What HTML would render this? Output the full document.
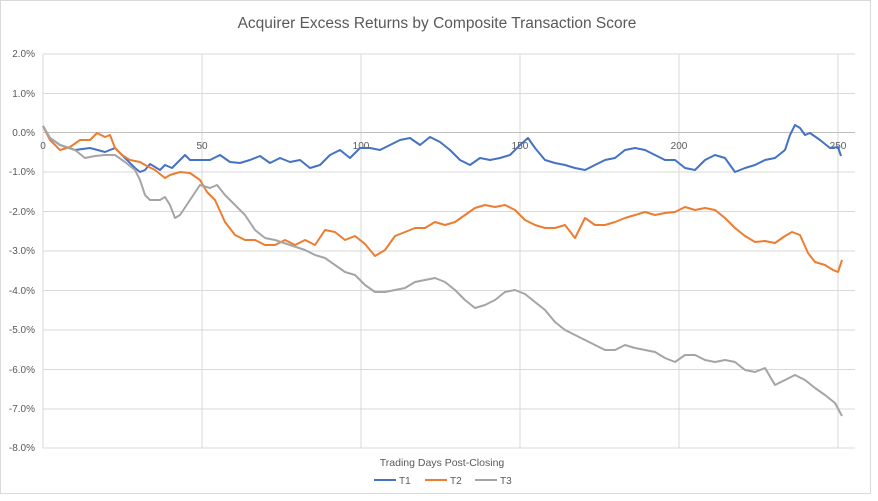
<!DOCTYPE html>
<html><head><meta charset="utf-8"><style>
html,body{margin:0;padding:0;background:#fff;}
svg{display:block;font-family:"Liberation Sans",sans-serif;}
</style></head><body>
<svg width="878" height="501" viewBox="0 0 878 501">
<rect x="0.5" y="0.5" width="870" height="493" fill="#fff" stroke="#d9d9d9"/>
<text x="437" y="28" text-anchor="middle" font-size="15.5" fill="#595959">Acquirer Excess Returns by Composite Transaction Score</text>
<g stroke="#d9d9d9" stroke-width="1">
<line x1="43" y1="54" x2="855" y2="54"/><line x1="43" y1="93.5" x2="855" y2="93.5"/>
<line x1="43" y1="172" x2="855" y2="172"/><line x1="43" y1="211.5" x2="855" y2="211.5"/>
<line x1="43" y1="251" x2="855" y2="251"/><line x1="43" y1="290.5" x2="855" y2="290.5"/>
<line x1="43" y1="330" x2="855" y2="330"/><line x1="43" y1="369.5" x2="855" y2="369.5"/>
<line x1="43" y1="409" x2="855" y2="409"/><line x1="43" y1="448" x2="855" y2="448"/>
<line x1="43" y1="54" x2="43" y2="448"/><line x1="202" y1="54" x2="202" y2="448"/>
<line x1="361" y1="54" x2="361" y2="448"/><line x1="520" y1="54" x2="520" y2="448"/>
<line x1="679" y1="54" x2="679" y2="448"/><line x1="838" y1="54" x2="838" y2="448"/>
</g>
<line x1="43" y1="132.5" x2="855" y2="132.5" stroke="#bfbfbf"/>
<g font-size="10" fill="#595959" text-anchor="end">
<text x="35" y="57">2.0%</text><text x="35" y="97">1.0%</text><text x="35" y="136">0.0%</text>
<text x="35" y="175">-1.0%</text><text x="35" y="215">-2.0%</text><text x="35" y="254">-3.0%</text>
<text x="35" y="294">-4.0%</text><text x="35" y="333">-5.0%</text><text x="35" y="373">-6.0%</text>
<text x="35" y="412">-7.0%</text><text x="35" y="451">-8.0%</text>
</g>
<g font-size="10" fill="#595959" text-anchor="middle">
<text x="43" y="149">0</text><text x="202" y="149">50</text><text x="361" y="149">100</text>
<text x="520" y="149">150</text><text x="679" y="149">200</text><text x="838" y="149">250</text>
</g>
<g fill="none" stroke-width="2" stroke-linejoin="round">
<polyline stroke="#4472c4" points="43,126 50,138 60,145 75,150 90,148 105,152 115,148 125,158 135,168 140,172 145,170 150,164 155,167 160,170 165,165 172,168 180,160 185,155 190,160 200,160 210,160 220,155 230,162 240,163 250,160 260,156 270,163 280,158 290,162 300,160 310,168 320,165 330,155 340,150 350,158 360,148 370,148 380,150 390,145 400,140 410,138 420,145 430,137 440,142 450,150 460,160 470,165 480,158 490,160 500,158 510,155 520,145 528,138 535,148 545,160 555,163 565,165 575,168 585,170 595,165 605,160 615,158 625,150 635,148 645,150 655,155 665,160 675,160 685,168 695,170 705,160 715,155 725,158 735,172 745,168 755,165 765,160 775,158 785,150 790,135 795,125 800,128 805,135 810,133 820,140 830,148 838,147 841,156"/>
<polyline stroke="#ed7d31" points="43,126 50,140 60,150 70,147 80,140 90,140 97,133 105,137 110,135 115,148 122,155 130,160 140,162 145,165 155,170 165,178 170,175 180,172 190,173 200,180 207,192 215,200 225,222 235,235 245,240 255,240 265,245 275,245 285,240 295,245 305,240 315,245 325,230 335,232 345,240 355,236 365,244 375,256 385,250 395,236 405,232 415,228 425,228 435,222 445,225 455,222 465,215 475,208 485,205 495,207 505,205 515,210 525,220 535,225 545,228 555,228 565,225 575,238 585,218 595,225 605,225 615,222 625,218 635,215 645,212 655,215 665,213 675,212 685,207 695,210 705,208 715,210 725,218 735,228 745,236 755,242 765,241 775,243 785,236 792,232 800,235 808,253 815,262 825,265 833,270 838,272 842,260"/>
<polyline stroke="#a5a5a5" points="43,126 50,138 60,145 75,150 85,158 95,156 105,155 115,155 125,162 135,170 140,180 145,195 150,200 160,200 165,197 170,205 175,218 180,215 190,200 200,185 210,188 217,185 225,195 235,205 245,215 255,230 265,238 275,240 290,245 305,250 315,255 325,258 335,265 345,272 355,275 365,285 375,292 385,292 395,290 405,288 415,282 425,280 435,278 445,282 455,290 465,300 475,308 485,305 495,300 505,292 515,290 525,294 535,302 545,310 555,322 565,330 575,335 585,340 595,345 605,350 615,350 625,345 635,348 645,350 655,352 665,358 675,362 685,355 695,355 705,360 715,362 725,360 735,362 745,370 755,372 765,368 775,385 785,380 795,375 805,380 815,388 825,395 835,403 842,416"/>
</g>
<text x="442" y="466" text-anchor="middle" font-size="10.5" fill="#595959">Trading Days Post-Closing</text>
<g font-size="10" fill="#595959">
<line x1="374" y1="480" x2="396" y2="480" stroke="#4472c4" stroke-width="2"/><text x="399" y="484">T1</text>
<line x1="425" y1="480" x2="447" y2="480" stroke="#ed7d31" stroke-width="2"/><text x="450" y="484">T2</text>
<line x1="475" y1="480" x2="497" y2="480" stroke="#a5a5a5" stroke-width="2"/><text x="500" y="484">T3</text>
</g>
</svg>
</body></html>
